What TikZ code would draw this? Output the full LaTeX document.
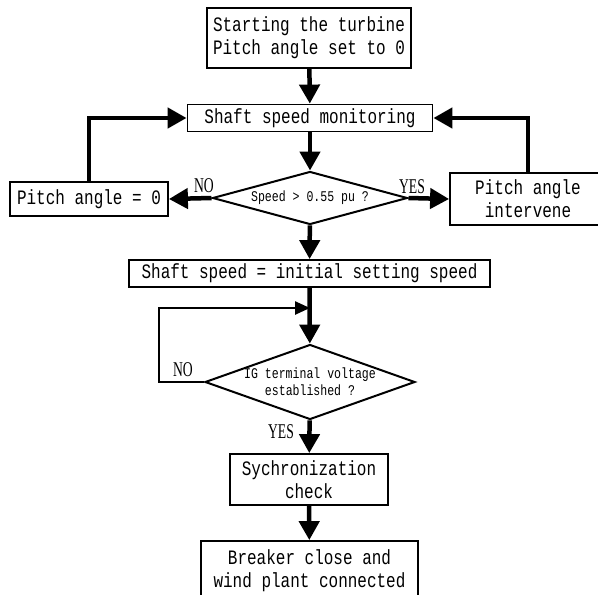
\documentclass[tikz,border=0pt]{standalone}
\usepackage{fontspec}
\setmainfont[FakeStretch=0.78]{Liberation Mono}
\newfontfamily\answerfont[FakeStretch=0.65]{Liberation Serif}
\usetikzlibrary{arrows.meta,shapes.geometric,positioning,calc}

\tikzset{
  stepbox/.style={draw,line width=1.8pt,align=center,inner sep=0pt,
    font=\fontsize{20.5}{23}\selectfont},
  testbox/.style={draw,diamond,line width=2pt,align=center,inner sep=0pt,
    font=\fontsize{14.8}{17}\selectfont},
  flow/.style={line width=4.5pt,-{Triangle[width=20pt,length=19pt]}},
  thinflow/.style={line width=2.5pt,-{Triangle[width=13pt,length=15pt]}},
  answer/.style={font=\answerfont\fontsize{21}{21}\selectfont,inner sep=0pt}
}

\begin{document}
\begin{tikzpicture}[x=1pt,y=-1pt]
  \useasboundingbox (0,0) rectangle (598,595);
  % steps
  \node[stepbox,minimum width=204pt,minimum height=60pt] (start) at (309,38)
    {Starting the turbine\\Pitch angle set to 0};
  \node[stepbox,minimum width=245pt,minimum height=27pt] (monitor) at (310,118)
    {Shaft speed monitoring};
  \node[testbox,aspect=3.68,minimum width=195pt,minimum height=53pt] (spdcheck) at (310,198)
    {Speed > 0.55 pu ?};
  \node[stepbox,minimum width=158pt,minimum height=34pt] (pitchzero) at (89,199)
    {Pitch angle = 0};
  \node[stepbox,minimum width=156pt,minimum height=52pt] (intervene) at (528,199)
    {Pitch angle\\intervene};
  \node[stepbox,minimum width=361pt,minimum height=27pt] (setspeed) at (309.5,273.5)
    {Shaft speed = initial setting speed};
  \node[testbox,aspect=2.8,minimum width=210pt,minimum height=75pt] (voltcheck) at (310,382)
    {IG terminal voltage\\established ?};
  \node[stepbox,minimum width=158pt,minimum height=51pt] (sync) at (309,479.5)
    {Sychronization\\check};
  \node[stepbox,minimum width=217pt,minimum height=59pt] (breaker) at (309.5,570.5)
    {Breaker close and\\wind plant connected};
  \coordinate (rejoin) at (310,308);

  % connectors
  \draw[flow] (start) -- (monitor);
  \draw[flow] (monitor) -- (spdcheck);
  \draw[flow] (spdcheck.west) -- (pitchzero.east);
  \draw[flow] (spdcheck.east) -- (intervene.west);
  \draw[flow] (pitchzero.north) |- (monitor.west);
  \draw[flow] (intervene.north) |- (monitor.east);
  \draw[flow] (spdcheck) -- (setspeed);
  \draw[flow] (setspeed) -- (voltcheck);
  \draw[thinflow] (voltcheck.west) -- ++(-45,0) |- (rejoin);
  \draw[flow] (voltcheck) -- (sync);
  \draw[flow] (sync) -- (breaker);

  % answers
  \node[answer] (no1) at (204,186) {NO};
  \node[answer] (yes1) at (412,187) {YES};
  \node[answer] (no2) at (183,370) {NO};
  \node[answer] (yes2) at (281,432) {YES};
\end{tikzpicture}
\end{document}
